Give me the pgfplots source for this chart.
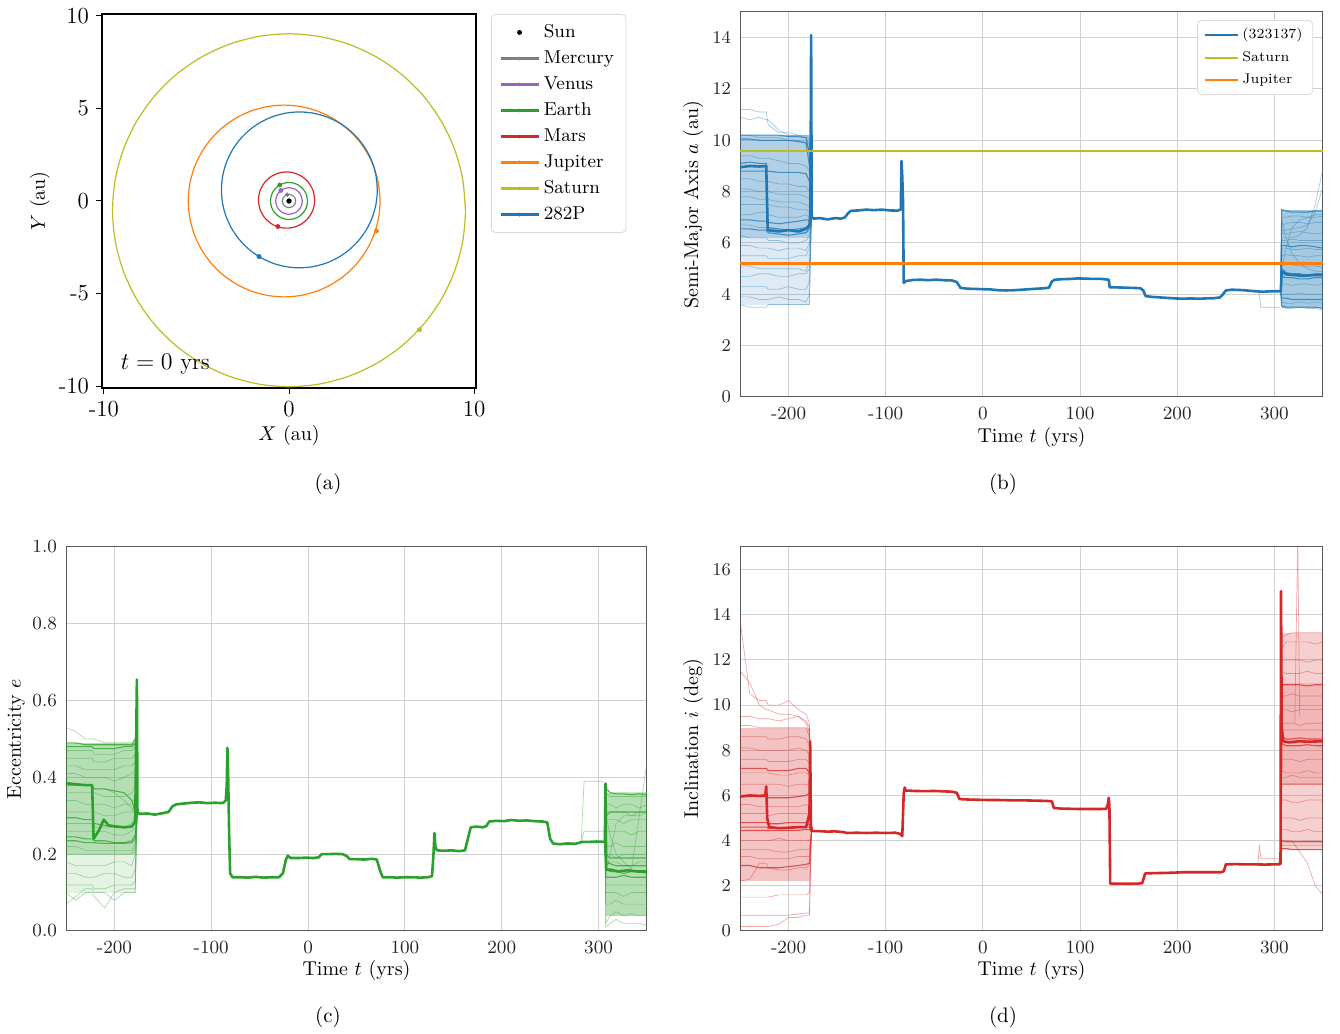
\documentclass[border=0pt]{standalone}
\usepackage{pgfplots}
\usepackage{pgfplotstable}
\pgfplotsset{compat=1.18}

\definecolor{tabblue}{HTML}{1F77B4}
\definecolor{taborange}{HTML}{FF7F0E}
\definecolor{tabgreen}{HTML}{2CA02C}
\definecolor{tabred}{HTML}{D62728}
\definecolor{tabpurple}{HTML}{9467BD}
\definecolor{tabgray}{HTML}{7F7F7F}
\definecolor{tabolive}{HTML}{BCBD22}

\newcommand{\fA}{\fontsize{11.5}{13.5}\selectfont}
\newcommand{\fL}{\fontsize{9.3}{11}\selectfont}
\newcommand{\fB}{\fontsize{9.3}{11}\selectfont}
\newcommand{\fS}{\fontsize{7}{8.4}\selectfont}
\newcommand{\fC}{\fontsize{10.5}{12.5}\selectfont}

% ---------------- (b) semi-major axis clones ----------------
\pgfplotstableread{
t c1 c2 c3 c4 c5 c6 c7 c8 c9 c10 c11 c12 c13 c14 c15 c16 c17 c18
-250 11.2 10.9 9.4 8.5 8.1 7.5 7.1 6.3 5.9 5.5 5.1 4.7 4.3 3.9 3.6 7.8 10.2 6.7
-240 11.2 10.8 9.4 8.5 8.1 7.5 7.1 6.2 5.9 5.5 5.1 4.7 4.3 3.9 3.5 7.8 10.2 6.7
-230 11.1 10.9 9.3 8.4 8.0 7.5 7.2 6.2 5.8 5.5 5.0 4.8 4.3 3.8 3.5 7.7 10.1 6.6
-223 11.1 10.8 9.3 8.4 8.0 7.5 7.2 6.2 5.8 5.5 5.0 4.8 4.3 3.8 3.5 7.7 10.1 6.6
-221 10.6 10.8 9.3 8.4 8.0 7.5 7.1 6.1 5.8 5.4 5.0 4.8 4.2 3.8 3.6 7.7 10.1 6.6
-210 10.3 10.4 9.2 8.3 7.9 7.4 7.0 6.1 5.7 5.4 5.0 4.7 4.2 3.9 3.6 7.6 10.1 6.5
-200 10.3 10.2 9.1 8.3 7.9 7.4 7.0 6.0 5.8 5.4 5.0 4.7 4.3 3.8 3.6 7.6 10.0 6.5
-190 10.2 10.2 9.1 8.2 7.9 7.3 7.0 6.0 5.8 5.5 5.0 4.8 4.2 3.8 3.6 7.6 10.0 6.4
-182 10.2 10.1 9.0 8.2 7.8 7.3 7.1 6.1 5.7 5.5 4.9 4.8 4.2 3.7 3.6 7.5 9.9 6.4
-178.5 10.0 9.8 8.8 8.0 7.7 7.2 7.0 6.3 6.0 5.8 5.3 5.0 4.5 4.0 3.6 7.4 9.6 6.5
-176.5 6.95 6.95 6.95 6.95 6.95 6.95 6.95 6.95 6.95 6.95 6.95 6.95 6.95 6.95 6.95 6.95 6.95 6.95
}\bLL
\pgfplotstableread{
t d1 d2 d3 d4 d5 d6
-250 10.2 10.05 9.1 8.8 6.55 6.9
-240 10.2 10.05 9.15 8.8 6.55 6.9
-230 10.2 10.0 9.1 8.8 6.5 6.85
-223 10.2 10.0 9.1 8.8 6.5 6.85
-221 10.2 10.0 6.6 8.8 6.4 6.8
-210 10.2 10.0 6.55 8.75 6.35 6.75
-200 10.15 10.0 6.5 8.75 6.3 6.8
-190 10.15 9.95 6.55 8.75 6.35 6.85
-182 10.1 9.9 6.6 8.7 6.4 6.9
-178.5 9.5 9.0 6.7 8.4 6.6 6.9
-176.5 6.95 6.95 6.95 6.95 6.95 6.95
}\bLD
\pgfplotstableread{
t c1 c2 c3 c4 c5 c6 c7 c8 c9 c10 c11 c12 c13 c14 c15 c16
306.5 4.12 4.12 4.12 4.12 4.12 4.12 4.12 4.12 4.12 4.12 4.12 4.12 4.12 4.12 4.12 4.12
307.5 7.3 7.0 6.7 6.4 6.1 5.5 5.2 4.4 4.0 3.7 5.0 6.9 6.2 6.5 3.5 5.8
312 7.25 7.0 6.75 6.35 6.1 5.55 5.2 4.4 4.0 3.65 5.8 6.2 6.2 6.5 3.45 5.8
318 7.25 7.05 6.8 6.4 6.15 5.5 5.15 4.35 4.0 3.65 6.6 5.6 6.2 6.55 3.45 5.75
326 7.25 7.05 6.8 6.45 6.1 5.5 5.1 4.4 4.05 3.7 6.9 5.2 6.3 6.6 3.5 5.75
334 7.2 7.0 6.75 6.4 6.1 5.45 5.1 4.4 4.0 3.65 7.0 5.0 6.6 6.7 3.45 5.8
342 7.25 7.0 6.8 6.35 6.1 5.5 5.1 4.35 4.0 3.7 7.1 4.9 7.5 7.2 3.45 5.75
350 7.25 7.05 6.8 6.4 6.1 5.5 5.05 4.4 4.0 3.65 7.1 4.9 8.9 8.2 3.4 5.75
}\bRL
\pgfplotstableread{
t d1 d2 d3 d4 d5 d6
306.5 4.12 4.12 4.12 4.12 4.12 4.12
307.5 7.3 5.9 5.0 4.7 3.85 3.55
312 7.25 5.9 4.85 4.65 3.85 3.5
318 7.2 5.85 4.8 4.65 3.8 3.5
326 7.2 5.9 4.8 4.6 3.8 3.5
334 7.2 5.9 4.75 4.6 3.8 3.5
342 7.25 5.85 4.8 4.65 3.8 3.5
350 7.25 5.8 4.8 4.65 3.8 3.45
}\bRD

% ---------------- (c) eccentricity clones ----------------
\pgfplotstableread{
t c1 c2 c3 c4 c5 c6 c7 c8 c9 c10 c11 c12 c13 c14 c15 c16 c17 c18
-250 0.53 0.47 0.45 0.43 0.41 0.36 0.34 0.31 0.28 0.2 0.18 0.15 0.12 0.1 0.07 0.22 0.38 0.26
-240 0.52 0.47 0.45 0.43 0.41 0.36 0.34 0.31 0.28 0.2 0.17 0.15 0.12 0.08 0.09 0.22 0.38 0.26
-230 0.5 0.47 0.45 0.42 0.4 0.36 0.33 0.31 0.28 0.2 0.17 0.14 0.12 0.1 0.11 0.21 0.38 0.26
-223 0.5 0.47 0.45 0.42 0.4 0.36 0.33 0.31 0.28 0.2 0.17 0.14 0.12 0.1 0.11 0.21 0.38 0.26
-221 0.5 0.46 0.44 0.42 0.4 0.36 0.33 0.31 0.27 0.2 0.17 0.14 0.11 0.09 0.1 0.21 0.37 0.26
-210 0.49 0.46 0.44 0.42 0.4 0.35 0.33 0.3 0.27 0.2 0.17 0.15 0.11 0.06 0.1 0.21 0.37 0.26
-200 0.49 0.46 0.45 0.42 0.39 0.35 0.32 0.3 0.27 0.2 0.18 0.15 0.12 0.1 0.08 0.21 0.36 0.25
-190 0.49 0.47 0.45 0.43 0.4 0.35 0.33 0.31 0.27 0.2 0.18 0.14 0.12 0.11 0.1 0.21 0.34 0.25
-182 0.49 0.47 0.45 0.43 0.41 0.36 0.33 0.31 0.28 0.2 0.17 0.14 0.12 0.11 0.1 0.21 0.32 0.26
-178.5 0.5 0.48 0.46 0.44 0.42 0.38 0.35 0.33 0.3 0.22 0.2 0.16 0.13 0.11 0.1 0.23 0.3 0.27
-176.5 0.305 0.305 0.305 0.305 0.305 0.305 0.305 0.305 0.305 0.305 0.305 0.305 0.305 0.305 0.305 0.305 0.305 0.305
}\cLL
\pgfplotstableread{
t d1 d2 d3 d4 d5 d6
-250 0.49 0.48 0.245 0.235 0.295 0.38
-240 0.49 0.48 0.245 0.235 0.295 0.38
-230 0.485 0.48 0.24 0.23 0.29 0.38
-223 0.485 0.48 0.24 0.23 0.29 0.38
-221 0.485 0.475 0.235 0.23 0.28 0.37
-210 0.485 0.475 0.235 0.228 0.275 0.37
-200 0.485 0.475 0.23 0.228 0.272 0.365
-190 0.485 0.48 0.23 0.228 0.272 0.36
-182 0.485 0.48 0.235 0.23 0.272 0.34
-178.5 0.5 0.49 0.25 0.24 0.28 0.31
-176.5 0.305 0.305 0.305 0.305 0.305 0.305
}\cLD
\pgfplotstableread{
t c1 c2 c3 c4 c5 c6 c7 c8 c9 c10 c11 c12 c13 c14 c15 c16
306.5 0.232 0.232 0.232 0.232 0.232 0.232 0.232 0.232 0.232 0.232 0.232 0.232 0.232 0.232 0.232 0.232
307.5 0.36 0.33 0.31 0.29 0.26 0.22 0.2 0.17 0.12 0.1 0.07 0.02 0.01 0.3 0.15 0.38
312 0.35 0.33 0.31 0.29 0.26 0.22 0.2 0.18 0.12 0.1 0.07 0.04 0.02 0.25 0.2 0.36
318 0.35 0.32 0.31 0.29 0.26 0.23 0.19 0.18 0.12 0.1 0.08 0.05 0.03 0.2 0.28 0.36
326 0.35 0.33 0.31 0.28 0.26 0.22 0.2 0.17 0.12 0.09 0.07 0.04 0.02 0.18 0.3 0.36
334 0.35 0.33 0.3 0.29 0.25 0.22 0.2 0.17 0.12 0.1 0.07 0.045 0.02 0.16 0.3 0.36
342 0.35 0.32 0.31 0.29 0.26 0.22 0.2 0.18 0.12 0.1 0.07 0.04 0.02 0.3 0.3 0.36
350 0.35 0.33 0.31 0.29 0.26 0.22 0.2 0.18 0.12 0.1 0.07 0.04 0.015 0.44 0.31 0.36
}\cRL
\pgfplotstableread{
t d1 d2 d3 d4 d5 d6
306.5 0.232 0.232 0.232 0.232 0.232 0.232
307.5 0.37 0.18 0.16 0.14 0.3 0.2
312 0.36 0.175 0.155 0.14 0.31 0.19
318 0.357 0.17 0.155 0.14 0.31 0.19
326 0.357 0.17 0.15 0.145 0.31 0.19
334 0.355 0.17 0.155 0.14 0.31 0.19
342 0.357 0.17 0.155 0.14 0.31 0.19
350 0.355 0.17 0.15 0.14 0.31 0.19
}\cRD

% ---------------- (d) inclination clones ----------------
\pgfplotstableread{
t c1 c2 c3 c4 c5 c6 c7 c8 c9 c10 c11 c12 c13 c14 c15 c16 c17 c18
-250 9.1 8.6 8.1 7.6 7.0 6.5 5.6 5.2 4.0 3.6 3.3 2.2 1.5 0.7 0.2 9.5 11.5 13.8
-240 9.1 8.6 8.1 7.6 7.0 6.5 5.6 5.2 4.0 3.6 3.3 2.3 1.5 0.7 0.2 9.5 11.0 10.5
-230 9.0 8.6 8.0 7.6 7.0 6.5 5.5 5.2 4.0 3.6 3.2 3.0 1.5 0.7 0.2 9.4 10.0 10.2
-223 9.0 8.6 8.0 7.6 7.0 6.5 5.5 5.2 4.0 3.6 3.2 3.0 1.5 0.7 0.2 9.4 9.8 10.2
-221 9.0 8.5 8.0 7.5 7.0 6.5 5.5 5.1 4.0 3.6 3.2 2.8 1.5 0.7 0.2 9.4 9.8 10.0
-210 9.0 8.5 8.0 7.5 6.9 6.5 5.5 5.2 4.1 3.5 3.2 2.7 1.6 0.7 0.3 9.3 9.6 10.0
-200 9.0 8.6 8.0 7.5 6.9 6.4 5.5 5.2 4.0 3.5 3.2 2.7 1.6 0.7 0.6 9.4 9.6 10.2
-190 9.0 8.6 8.1 7.6 7.0 6.5 5.5 5.2 4.0 3.6 3.3 2.8 1.6 0.75 0.6 9.5 9.5 9.8
-182 9.0 8.5 8.0 7.6 7.0 6.5 5.6 5.2 4.0 3.6 3.3 2.8 1.6 0.8 0.7 9.2 9.3 9.6
-178.5 8.6 8.2 7.8 7.4 6.9 6.4 5.5 5.1 4.0 3.6 3.3 2.9 1.7 0.8 0.7 8.8 9.0 9.2
-176.5 4.4 4.4 4.4 4.4 4.4 4.4 4.4 4.4 4.4 4.4 4.4 4.4 4.4 4.4 4.4 4.4 4.4 4.4
}\dLL
\pgfplotstableread{
t d1 d2 d3 d4 d5 d6
-250 4.6 4.45 6.0 2.9 7.2 4.8
-240 4.6 4.45 6.0 2.9 7.2 4.8
-230 4.6 4.45 5.95 2.8 7.2 4.8
-223 4.6 4.45 5.95 2.8 7.2 4.8
-221 4.55 4.45 5.9 2.8 7.1 4.75
-210 4.55 4.45 5.9 2.8 7.1 4.75
-200 4.55 4.45 5.9 2.85 7.1 4.8
-190 4.6 4.45 5.95 2.9 7.2 4.8
-182 4.6 4.5 6.0 2.95 7.2 4.8
-178.5 4.6 4.5 6.1 3.0 7.0 4.7
-176.5 4.4 4.4 4.4 4.4 4.4 4.4
}\dLD
\pgfplotstableread{
t c1 c2 c3 c4 c5 c6 c7 c8 c9 c10 c11 c12 c13 c14 c15 c16
306.5 2.95 2.95 2.95 2.95 2.95 2.95 2.95 2.95 2.95 2.95 2.95 2.95 2.95 2.95 2.95 2.95
307.5 13.0 12.5 12.0 11.5 10.4 9.8 9.2 7.6 7.1 5.8 5.0 4.5 3.8 8.9 4.0 6.8
312 13.1 12.8 12.0 11.4 10.4 9.8 9.2 7.6 7.0 5.8 5.0 4.5 3.8 8.9 4.0 6.8
318 13.2 12.8 12.0 11.4 10.5 9.7 9.2 7.6 7.0 5.7 5.0 4.4 3.8 8.9 4.0 6.9
326 13.2 12.8 12.0 11.4 10.4 9.8 9.1 7.5 7.0 5.7 4.9 4.4 3.8 8.9 3.5 6.8
334 13.2 12.8 11.9 11.5 10.4 9.8 9.2 7.6 7.1 5.8 5.0 4.5 3.8 8.9 3.0 6.8
342 13.2 12.7 12.0 11.4 10.4 9.8 9.2 7.6 7.0 5.8 5.0 4.4 3.8 8.9 2.0 6.8
350 13.2 12.8 12.0 11.4 10.4 9.8 9.2 7.6 7.0 5.8 5.0 4.4 3.8 8.9 1.6 6.8
}\dRL
\pgfplotstableread{
t d1 d2 d3 d4 d5 d6
306.5 2.95 2.95 2.95 2.95 2.95 2.95
307.5 8.6 8.3 6.5 10.9 3.65 4.0
312 8.5 8.2 6.5 10.9 3.65 3.95
318 8.5 8.2 6.5 10.9 3.6 3.95
326 8.55 8.2 6.5 10.9 3.6 3.95
334 8.5 8.25 6.5 10.85 3.6 3.95
342 8.5 8.2 6.5 10.9 3.6 3.95
350 8.5 8.2 6.5 10.9 3.6 3.95
}\dRD

\pgfplotsset{
 evo/.style={
  scale only axis, width=291.5pt, height=192pt,
  xmin=-250, xmax=350,
  xtick={-200,-100,0,100,200,300},
  xticklabels={-200,-100,0,100,200,300},
  grid=major,
  grid style={draw=black!18, line width=0.5pt},
  axis line style={draw=black!65, line width=0.5pt},
  major tick length=0pt,
  tick label style={font=\fB, text=black!85},
  xticklabel style={yshift=-1.5pt},
  yticklabel style={xshift=-1pt},
  label style={font=\fB, text=black!85},
  xlabel={Time $t$ (yrs)},
  every axis x label/.style={at={(axis description cs:0.5,-0.104)}, anchor=center},
  every axis y label/.style={at={(axis description cs:-0.0806,0.5)}, rotate=90, anchor=center},
 },
 clL/.style={forget plot, line width=0.35pt, draw opacity=0.4},
 clD/.style={forget plot, line width=0.55pt, draw opacity=0.75},
 blk/.style={forget plot, draw=none, fill opacity=#1},
 mainl/.style={line width=1.3pt, line join=round},
 orb/.style={line width=0.6pt, smooth, forget plot},
}

\begin{document}
\begin{tikzpicture}
\path[use as bounding box] (0,0) rectangle (670pt,517pt);

% ======================= (a) =======================
\begin{axis}[
  at={(51pt,323pt)}, anchor=south west, scale only axis,
  width=187pt, height=187pt,
  xmin=-10.1, xmax=10.1, ymin=-10.1, ymax=10.1,
  xtick={-10,0,10}, xticklabels={-10,0,10},
  ytick={-10,-5,0,5,10}, yticklabels={-10,-5,0,5,10},
  tick pos=left, tick align=outside, major tick length=3pt,
  tick style={black, line width=0.5pt},
  axis line style={black, line width=0.6pt},
  tick label style={font=\fA},
  label style={font=\fA},
  xlabel={$X$ (au)}, ylabel={$Y$ (au)},
  every axis x label/.style={at={(axis description cs:0.5,-0.126)}, anchor=center},
  every axis y label/.style={at={(axis description cs:-0.166,0.5)}, rotate=90, anchor=center},
  legend style={at={(1.04,1)}, anchor=north west, font=\fL, draw=black!15,
     rounded corners=2pt, row sep=1.1pt, inner xsep=4pt, inner ysep=3pt},
  legend cell align=left,
  legend image code/.code={\draw[#1, line width=1.2pt] (0pt,0pt) -- (19pt,0pt);
      \fill[#1] (9.5pt,0pt) circle (0.7pt);},
]
% Saturn orbit
\addplot[tabolive, orb] coordinates {
 (9.53,-0.5) (9.385,1.154) (8.955,2.759) (8.253,4.265) (7.300,5.626) (6.126,6.800)
 (4.765,7.753) (3.259,8.455) (1.654,8.885) (0,9.03) (-1.654,8.885) (-3.259,8.455)
 (-4.765,7.753) (-6.126,6.800) (-7.300,5.626) (-8.253,4.265) (-8.955,2.759)
 (-9.385,1.154) (-9.53,-0.5) (-9.385,-2.154) (-8.955,-3.759) (-8.253,-5.265)
 (-7.300,-6.626) (-6.126,-7.800) (-4.765,-8.753) (-3.259,-9.455) (-1.654,-9.885)
 (0,-10.03) (1.654,-9.885) (3.259,-9.455) (4.765,-8.753) (6.126,-7.800)
 (7.300,-6.626) (8.253,-5.265) (8.955,-3.759) (9.385,-2.154) (9.53,-0.5) (9.385,1.154)};
% Jupiter orbit
\addplot[taborange, orb] coordinates {
 (4.92,0) (4.841,0.899) (4.608,1.772) (4.226,2.59) (3.708,3.330) (3.070,3.968)
 (2.33,4.486) (1.512,4.868) (0.639,5.101) (-0.26,5.18) (-1.159,5.101) (-2.032,4.868)
 (-2.85,4.486) (-3.590,3.968) (-4.228,3.330) (-4.746,2.59) (-5.128,1.772)
 (-5.361,0.899) (-5.44,0) (-5.361,-0.899) (-5.128,-1.772) (-4.746,-2.59)
 (-4.228,-3.330) (-3.590,-3.968) (-2.85,-4.486) (-2.032,-4.868) (-1.159,-5.101)
 (-0.26,-5.18) (0.639,-5.101) (1.512,-4.868) (2.33,-4.486) (3.070,-3.968)
 (3.708,-3.330) (4.226,-2.59) (4.608,-1.772) (4.841,-0.899) (4.92,0) (4.841,0.899)};
% 282P orbit
\addplot[tabblue, orb] coordinates {
 (4.77,0.6) (4.706,1.331) (4.516,2.04) (4.206,2.705) (3.785,3.306) (3.266,3.825)
 (2.665,4.246) (2.0,4.556) (1.291,4.746) (0.56,4.81) (-0.171,4.746) (-0.88,4.556)
 (-1.545,4.246) (-2.146,3.825) (-2.665,3.306) (-3.086,2.705) (-3.396,2.04)
 (-3.586,1.331) (-3.65,0.6) (-3.586,-0.131) (-3.396,-0.84) (-3.086,-1.505)
 (-2.665,-2.106) (-2.146,-2.625) (-1.545,-3.046) (-0.88,-3.356) (-0.171,-3.546)
 (0.56,-3.61) (1.291,-3.546) (2.0,-3.356) (2.665,-3.046) (3.266,-2.625)
 (3.785,-2.106) (4.206,-1.505) (4.516,-0.84) (4.706,-0.131) (4.77,0.6) (4.706,1.331)};
% Mars orbit
\addplot[tabred, orb] coordinates {
 (1.39,0.05) (1.298,0.57) (1.034,1.027) (0.63,1.366) (0.134,1.547) (-0.394,1.547)
 (-0.89,1.366) (-1.294,1.027) (-1.558,0.57) (-1.65,0.05) (-1.558,-0.47) (-1.294,-0.927)
 (-0.89,-1.266) (-0.394,-1.447) (0.134,-1.447) (0.63,-1.266) (1.034,-0.927)
 (1.298,-0.47) (1.39,0.05) (1.298,0.57)};
% Earth orbit
\addplot[tabgreen, orb] coordinates {
 (1,0) (0.940,0.342) (0.766,0.643) (0.5,0.866) (0.174,0.985) (-0.174,0.985)
 (-0.5,0.866) (-0.766,0.643) (-0.940,0.342) (-1,0) (-0.940,-0.342) (-0.766,-0.643)
 (-0.5,-0.866) (-0.174,-0.985) (0.174,-0.985) (0.5,-0.866) (0.766,-0.643)
 (0.940,-0.342) (1,0) (0.940,0.342)};
% Venus orbit
\addplot[tabpurple, orb] coordinates {
 (0.72,0) (0.624,0.36) (0.36,0.624) (0,0.72) (-0.36,0.624) (-0.624,0.36) (-0.72,0)
 (-0.624,-0.36) (-0.36,-0.624) (0,-0.72) (0.36,-0.624) (0.624,-0.36) (0.72,0) (0.624,0.36)};
% Mercury orbit
\addplot[tabgray, orb] coordinates {
 (0.36,0) (0.312,0.18) (0.18,0.312) (0,0.36) (-0.18,0.312) (-0.312,0.18) (-0.36,0)
 (-0.312,-0.18) (-0.18,-0.312) (0,-0.36) (0.18,-0.312) (0.312,-0.18) (0.36,0) (0.312,0.18)};

% bodies (legend entries)
\addplot[black, only marks, mark=*, mark size=1.1pt,
  legend image code/.code={\fill[black] (9.5pt,0pt) circle (1pt);}] coordinates {(0,0)};
\addlegendentry{Sun}
\addplot[tabgray, mark=*, mark size=0.9pt] coordinates {(-0.1,0.34)};
\addlegendentry{Mercury}
\addplot[tabpurple, mark=*, mark size=1pt] coordinates {(-0.44,0.57)};
\addlegendentry{Venus}
\addplot[tabgreen, mark=*, mark size=1pt] coordinates {(-0.5,0.866)};
\addlegendentry{Earth}
\addplot[tabred, mark=*, mark size=1pt] coordinates {(-0.6,-1.38)};
\addlegendentry{Mars}
\addplot[taborange, mark=*, mark size=1pt] coordinates {(4.72,-1.62)};
\addlegendentry{Jupiter}
\addplot[tabolive, mark=*, mark size=1pt] coordinates {(7.05,-6.95)};
\addlegendentry{Saturn}
\addplot[tabblue, mark=*, mark size=1pt] coordinates {(-1.62,-3.0)};
\addlegendentry{282P}

\node[anchor=base west, font=\fA, inner sep=0pt] at (axis cs:-9.1,-9.08) {$t = 0$ yrs};
\end{axis}

% ======================= (b) =======================
\begin{axis}[evo,
  at={(370pt,318.5pt)}, anchor=south west, height=192.5pt,
  ymin=0, ymax=15, ytick={0,2,...,14},
  ylabel={Semi-Major Axis $a$ (au)},
  legend style={at={(0.983,0.979)}, anchor=north east, font=\fS, draw=black!15,
     rounded corners=2pt, row sep=0.8pt, inner xsep=3pt, inner ysep=2pt},
  legend cell align=left,
  legend image code/.code={\draw[#1, line width=0.9pt] (0pt,0pt) -- (16.5pt,0pt);},
]
\addplot[blk=0.35, fill=tabblue] coordinates {(-250,6.2) (-178,6.2) (-178,10.2) (-250,10.2)};
\addplot[blk=0.15, fill=tabblue] coordinates {(-250,3.6) (-178,3.6) (-178,6.2) (-250,6.2)};
\addplot[blk=0.4, fill=tabblue] coordinates {(307.5,3.45) (350,3.45) (350,7.3) (307.5,7.3)};
\pgfplotsinvokeforeach{1,...,18}{\addplot[tabblue, clL] table[x=t, y=c#1] {\bLL};}
\pgfplotsinvokeforeach{1,...,6}{\addplot[tabblue, clD] table[x=t, y=d#1] {\bLD};}
\pgfplotsinvokeforeach{1,...,16}{\addplot[tabblue, clL] table[x=t, y=c#1] {\bRL};}
\pgfplotsinvokeforeach{1,...,6}{\addplot[tabblue, clD] table[x=t, y=d#1] {\bRD};}
\addplot[tabblue, clL] coordinates {(284,4.12) (286,3.5) (306,3.5)};
\addplot[tabblue, mainl] coordinates {
 (-250,8.95) (-240,9.0) (-230,8.98) (-223,9.0) (-221.5,6.5) (-210,6.45) (-200,6.5)
 (-190,6.45) (-182,6.55) (-178.5,6.7) (-177.5,7.2) (-176.8,14.1) (-176.2,7.0)
 (-174,6.95) (-168,6.97) (-160,6.92) (-152,6.97) (-146,6.95) (-142,7.0) (-139,7.15)
 (-136,7.25) (-128,7.27) (-120,7.3) (-112,7.28) (-104,7.3) (-96,7.27) (-88,7.26)
 (-84.5,7.3) (-83.8,9.2) (-83,8.6) (-82.2,7.6) (-81.5,4.45) (-79,4.52) (-72,4.56)
 (-64,4.57) (-56,4.55) (-48,4.57) (-40,4.55) (-32,4.54) (-27,4.48) (-23,4.25)
 (-16,4.22) (-8,4.21) (0,4.2) (8,4.19) (16,4.16) (24,4.15) (32,4.16) (40,4.18)
 (48,4.2) (56,4.22) (64,4.24) (68,4.26) (71,4.5) (74,4.57) (82,4.59) (90,4.6)
 (98,4.62) (106,4.61) (114,4.6) (122,4.6) (129.5,4.57) (130.5,4.27) (138,4.27)
 (146,4.26) (154,4.25) (162,4.24) (165,4.15) (167.5,3.93) (174,3.9) (182,3.88)
 (190,3.86) (198,3.84) (206,3.83) (214,3.84) (222,3.83) (230,3.84) (238,3.85)
 (244,3.88) (247,4.0) (250,4.15) (256,4.18) (264,4.17) (272,4.15) (280,4.12)
 (288,4.1) (296,4.12) (306.5,4.12) (307.5,4.9) (312,4.78) (320,4.75) (330,4.72)
 (340,4.75) (350,4.75)};
\addlegendentry{(323137)}
\addplot[draw=tabolive, line width=1pt] coordinates {(-250,9.58) (350,9.58)};
\addlegendentry{Saturn}
\addplot[draw=taborange, line width=1.05pt] coordinates {(-250,5.2) (350,5.2)};
\addlegendentry{Jupiter}
\end{axis}

% ======================= (c) =======================
\begin{axis}[evo,
  at={(33pt,51.5pt)}, anchor=south west, width=290.5pt, height=192pt,
  ymin=0, ymax=1, ytick={0,0.2,0.4,0.6,0.8,1},
  yticklabels={0.0,0.2,0.4,0.6,0.8,1.0},
  ylabel={Eccentricity $e$},
  every axis y label/.style={at={(axis description cs:-0.086,0.5)}, rotate=90, anchor=center},
]
\addplot[blk=0.35, fill=tabgreen] coordinates {(-250,0.2) (-178,0.2) (-178,0.49) (-250,0.49)};
\addplot[blk=0.12, fill=tabgreen] coordinates {(-250,0.1) (-178,0.1) (-178,0.2) (-250,0.2)};
\addplot[blk=0.35, fill=tabgreen] coordinates {(307.5,0.04) (350,0.04) (350,0.36) (307.5,0.36)};
\pgfplotsinvokeforeach{1,...,18}{\addplot[tabgreen, clL] table[x=t, y=c#1] {\cLL};}
\pgfplotsinvokeforeach{1,...,6}{\addplot[tabgreen, clD] table[x=t, y=d#1] {\cLD};}
\pgfplotsinvokeforeach{1,...,16}{\addplot[tabgreen, clL] table[x=t, y=c#1] {\cRL};}
\pgfplotsinvokeforeach{1,...,6}{\addplot[tabgreen, clD] table[x=t, y=d#1] {\cRD};}
\addplot[tabgreen, clL] coordinates {(282,0.23) (285,0.39) (306,0.39)};
\addplot[tabgreen, clL] coordinates {(282,0.23) (285,0.26) (306,0.26)};
\addplot[tabgreen, mainl, forget plot] coordinates {
 (-250,0.385) (-240,0.382) (-230,0.38) (-223,0.38) (-221.5,0.24) (-216,0.262)
 (-211,0.29) (-206,0.275) (-198,0.272) (-190,0.27) (-182,0.272) (-178.5,0.285)
 (-177.5,0.5) (-176.8,0.655) (-176.2,0.31) (-174,0.305) (-166,0.306) (-158,0.303)
 (-150,0.307) (-144,0.31) (-140,0.325) (-136,0.33) (-128,0.332) (-120,0.334)
 (-112,0.335) (-104,0.333) (-96,0.334) (-88,0.333) (-85,0.34) (-84,0.38)
 (-83.3,0.477) (-82.5,0.4) (-81.5,0.25) (-80.5,0.15) (-78,0.14) (-70,0.14)
 (-62,0.139) (-54,0.141) (-46,0.139) (-38,0.14) (-30,0.14) (-26,0.15) (-23,0.185)
 (-21,0.196) (-18,0.19) (-10,0.19) (-2,0.191) (6,0.19) (11,0.192) (14,0.2) (20,0.2)
 (28,0.201) (36,0.2) (40,0.195) (43,0.187) (50,0.187) (58,0.186) (66,0.188)
 (71,0.186) (74,0.16) (77,0.14) (84,0.14) (92,0.139) (100,0.14) (108,0.14)
 (116,0.139) (124,0.14) (128,0.143) (129.5,0.2) (130.5,0.255) (131.5,0.22)
 (133,0.21) (140,0.209) (148,0.21) (156,0.208) (162,0.21) (165,0.24) (168,0.27)
 (174,0.272) (180,0.27) (184,0.273) (187,0.285) (194,0.287) (202,0.286) (210,0.289)
 (218,0.287) (226,0.288) (234,0.286) (242,0.285) (247,0.283) (250,0.24) (253,0.228)
 (260,0.226) (268,0.228) (276,0.227) (283,0.232) (290,0.232) (298,0.233)
 (306.5,0.232) (307.2,0.384) (307.8,0.16) (312,0.16) (320,0.155) (330,0.158)
 (340,0.155) (350,0.155)};
\end{axis}

% ======================= (d) =======================
\begin{axis}[evo,
  at={(370pt,51.5pt)}, anchor=south west, height=192pt,
  ymin=0, ymax=17, ytick={0,2,...,16},
  ylabel={Inclination $i$ (deg)},
]
\addplot[blk=0.28, fill=tabred] coordinates {(-250,2.2) (-178,2.2) (-178,9.0) (-250,9.0)};
\addplot[blk=0.22, fill=tabred] coordinates {(307.5,3.6) (350,3.6) (350,13.2) (307.5,13.2)};
\addplot[blk=0.15, fill=tabred] coordinates {(307.5,6.5) (350,6.5) (350,11) (307.5,11)};
\pgfplotsinvokeforeach{1,...,18}{\addplot[tabred, clL] table[x=t, y=c#1] {\dLL};}
\pgfplotsinvokeforeach{1,...,6}{\addplot[tabred, clD] table[x=t, y=d#1] {\dLD};}
\pgfplotsinvokeforeach{1,...,16}{\addplot[tabred, clL] table[x=t, y=c#1] {\dRL};}
\pgfplotsinvokeforeach{1,...,6}{\addplot[tabred, clD] table[x=t, y=d#1] {\dRD};}
\addplot[tabred, clL] coordinates {(283,2.95) (284.5,3.8) (286,3.2) (306,3.2)};
\addplot[tabred, clL] coordinates {(321,9.2) (324,17.5) (326,9.5)};
\addplot[tabred, mainl, forget plot] coordinates {
 (-250,5.95) (-240,6.0) (-230,5.98) (-224,6.0) (-223,6.4) (-222,5.0) (-220,4.6)
 (-210,4.55) (-200,4.57) (-190,4.6) (-182,4.6) (-178.5,5.2) (-177.8,8.4) (-177,4.7)
 (-176,4.42) (-168,4.42) (-160,4.4) (-152,4.41) (-144,4.38) (-140,4.34) (-130,4.35)
 (-120,4.34) (-110,4.35) (-100,4.34) (-90,4.35) (-85,4.3) (-83,4.2) (-81.5,6.1)
 (-80.5,6.35) (-79.5,6.22) (-70,6.2) (-60,6.19) (-50,6.2) (-40,6.18) (-32,6.17)
 (-27,6.12) (-24,5.84) (-15,5.82) (-5,5.81) (5,5.8) (15,5.8) (25,5.79) (35,5.78)
 (45,5.78) (55,5.77) (65,5.76) (71,5.74) (73,5.45) (80,5.42) (90,5.41) (100,5.4)
 (110,5.4) (120,5.4) (127,5.41) (128.5,5.6) (129.5,5.9) (130.2,5.5) (131,2.1)
 (140,2.1) (150,2.09) (160,2.1) (164,2.12) (167,2.55) (175,2.56) (185,2.57)
 (195,2.58) (205,2.6) (215,2.6) (225,2.6) (235,2.6) (245,2.6) (248,2.65) (250,2.95)
 (260,2.96) (270,2.95) (280,2.95) (290,2.94) (300,2.95) (305.5,2.95) (306.3,3.2)
 (306.8,15.05) (307.5,9.0) (309,8.4) (315,8.35) (325,8.4) (335,8.38) (350,8.4)};
\end{axis}

\node[font=\fC] at (164pt,275pt) {(a)};
\node[font=\fC] at (501.5pt,275pt) {(b)};
\node[font=\fC] at (164pt,8.5pt) {(c)};
\node[font=\fC] at (501.5pt,8.5pt) {(d)};
\end{tikzpicture}
\end{document}
